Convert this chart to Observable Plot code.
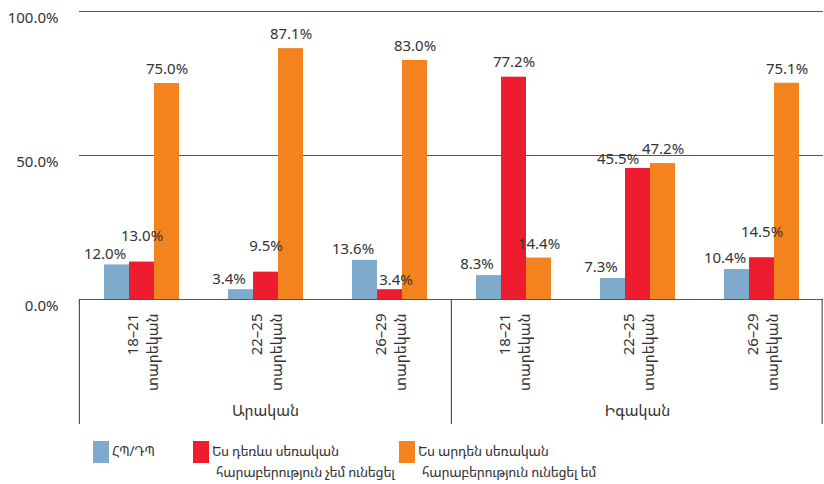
<!DOCTYPE html>
<html>
<head>
<meta charset="utf-8">
<script src="https://cdn.jsdelivr.net/npm/d3@7"></script>
<script src="https://cdn.jsdelivr.net/npm/@observablehq/plot@0.6"></script>
<style>
  html, body { margin: 0; padding: 0; background: #fff; overflow: hidden; }
  body { width: 824px; height: 484px; font-family: "Noto Sans", "Noto Sans Armenian", "DejaVu Sans", sans-serif; color: #333; }
  #legend { display: grid; grid-template-columns: 100px 206px auto; padding-left: 93px; padding-top: 11px; font-size: 13.5px; }
  .item { display: flex; align-items: flex-start; }
  .sw { width: 16px; height: 22px; flex: none; margin-right: 3px; }
  .lab { white-space: pre; line-height: 21px; padding-left: 4px; text-indent: -4px; letter-spacing: -0.3px; font-stretch: 87.5%; }
</style>
</head>
<body>
<div id="chart"></div>
<div id="legend"></div>
<script>
// ---- data ----
const sexes = ["Արական", "Իգական"];
const ages = ["18–21", "22–25", "26–29"];
const ageUnit = "տարեկան";
const series = [
  "ՀՊ/ԴՊ",
  "Ես դեռևս սեռական\nհարաբերություն չեմ ունեցել",
  "Ես արդեն սեռական\nհարաբերություն ունեցել եմ"
];
const colors = ["#7DAACD", "#ED1C2E", "#F3831F"];
// values per category: Male 18–21, 22–25, 26–29, Female 18–21, 22–25, 26–29
const hpdp    = [12.0, 3.4, 13.6, 8.3, 7.3, 10.4];
const notYet  = [13.0, 9.5, 3.4, 77.2, 45.5, 14.5];
const already = [75.0, 87.1, 83.0, 14.4, 47.2, 75.1];
const yTicks = [0, 50, 100];

// ---- build ----
const W = 824, H = 430, mL = 78, mR = 0, mT = 11, mB = 131;
const cats = sexes.flatMap(s => ages.map(a => s + "|" + a));
const bw = (W - mL - mR) / cats.length;
const values = [hpdp, notYet, already];
const rows = [];
cats.forEach((c, g) => values.forEach((arr, s) => rows.push({cat: c, g, s, v: arr[g]})));

function nudge(r) {
  const b = hpdp[r.g], n = notYet[r.g], o = already[r.g];
  if (r.s === 0) return [-12, -11];
  if (r.s === 1) {
    if (n < b) return [6, -10];
    if (n - b < 7) return [0, -26];
    if (o > n && o - n < 5) return [-20, -9];
    return [0, -15];
  }
  return [0, -14];
}
const labelGroups = d3.groups(rows, r => nudge(r).join(","));
const fmt = d => d.toFixed(1) + "%";

const plot = Plot.plot({
  width: W, height: H,
  marginLeft: mL, marginRight: mR, marginTop: mT, marginBottom: mB,
  style: {fontFamily: '"Noto Sans", "Noto Sans Armenian", "DejaVu Sans", sans-serif', fontSize: "15px", color: "#333", background: "#fff"},
  fx: {domain: cats, padding: 0, axis: null, label: null},
  x: {domain: [0, 1, 2], paddingInner: 0, paddingOuter: 0.89, axis: null, label: null},
  y: {domain: [0, 100], axis: null, label: null},
  color: {domain: [0, 1, 2], range: colors},
  marks: [
    Plot.ruleY(yTicks, {y: d => d, stroke: "#555", strokeWidth: 1}),
    Plot.barY(rows, {fx: "cat", x: "s", y: "v", fill: d => d.s}),
    ...labelGroups.map(([k, rs]) => {
      const [dx, dy] = k.split(",").map(Number);
      return Plot.text(rs, {fx: "cat", x: "s", y: "v", text: d => fmt(d.v), dx, dy, fontSize: 15, fill: "#333"});
    }),
    Plot.text(yTicks, {fx: () => cats[0], y: d => d, text: fmt, frameAnchor: "left", textAnchor: "end", dx: -21, dy: 7, fontSize: 15, fill: "#333"}),
    Plot.text(cats, {fx: d => d, text: d => d.split("|")[1] + "\n" + ageUnit, frameAnchor: "bottom", rotate: -90, textAnchor: "end", lineAnchor: "middle", lineHeight: 1.3, dy: 14, fontSize: 15, fill: "#333"}),
    Plot.text(sexes, {fx: s => s + "|" + ages[1], text: d => d, frameAnchor: "bottom", dy: 116, fontSize: 15, fill: "#333"}),
    Plot.ruleX([cats[0], cats[3]], {fx: d => d, x: null, y1: 0, y2: 0, insetBottom: -125, dx: -bw / 2, stroke: "#333"}),
    Plot.ruleX([cats[5]], {fx: d => d, x: null, y1: 0, y2: 0, insetBottom: -125, dx: bw / 2 - 1.5, stroke: "#333"})
  ]
});
document.getElementById("chart").appendChild(plot);

// ---- legend ----
const legend = d3.select("#legend");
series.forEach((name, i) => {
  const it = legend.append("div").attr("class", "item");
  it.append("div").attr("class", "sw").style("background", colors[i]);
  it.append("div").attr("class", "lab").text(name);
});
</script>
</body>
</html>
